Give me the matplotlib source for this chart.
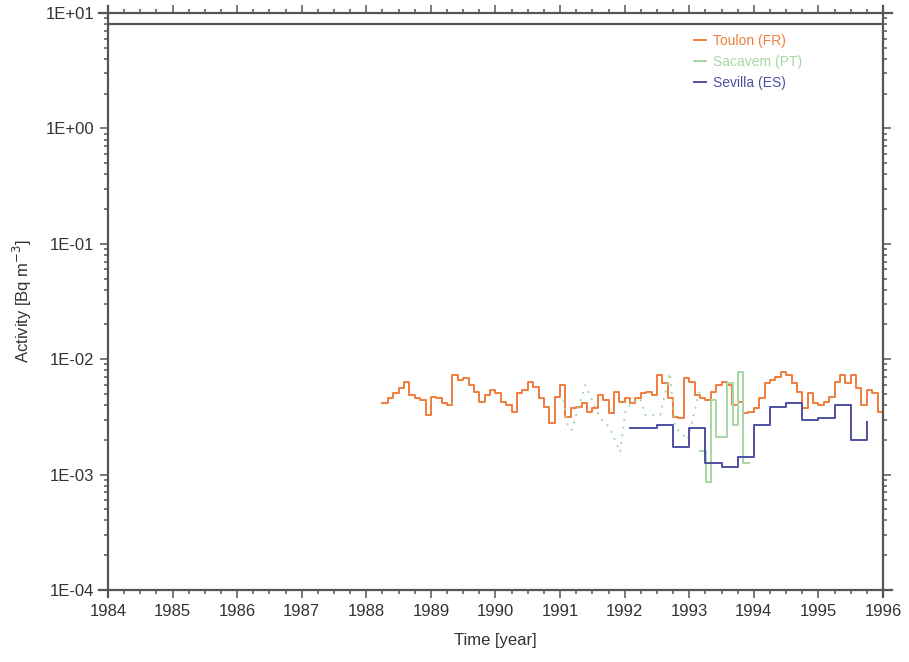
import matplotlib
matplotlib.use("Agg")
import matplotlib.pyplot as plt
import numpy as np
from matplotlib.lines import Line2D
from matplotlib.ticker import FixedLocator, FuncFormatter, LogLocator

plt.rcParams['font.family'] = ['Liberation Sans', 'DejaVu Sans']

# Toulon (FR): monthly steps from 1988.25
toulon_start = 1988.25
toulon = [4.17e-3, 4.61e-3, 5.09e-3, 5.63e-3, 6.35e-3, 4.90e-3, 4.61e-3, 4.43e-3,
          3.28e-3, 4.70e-3, 4.61e-3, 4.17e-3, 4.01e-3, 7.30e-3, 6.60e-3, 6.87e-3,
          5.97e-3, 5.20e-3, 4.26e-3, 4.90e-3, 5.41e-3, 5.09e-3, 4.26e-3, 4.01e-3,
          3.49e-3, 5.09e-3, 5.41e-3, 6.35e-3, 5.74e-3, 4.61e-3, 3.85e-3, 2.80e-3,
          4.70e-3, 5.97e-3, 3.16e-3, 3.78e-3, 3.85e-3, 4.17e-3, 3.49e-3, 3.78e-3,
          4.90e-3, 4.43e-3, 3.42e-3, 5.20e-3, 4.26e-3, 4.61e-3,
          4.17e-3, 4.61e-3, 5.09e-3, 5.20e-3, 4.90e-3, 7.30e-3, 6.22e-3, 4.61e-3,
          3.16e-3, 3.09e-3, 6.87e-3, 6.35e-3, 4.90e-3, 4.61e-3, 4.43e-3, 5.20e-3,
          5.97e-3, 6.35e-3, 5.97e-3, 4.01e-3, 4.26e-3, 3.42e-3, 3.49e-3, 3.78e-3,
          4.61e-3, 6.22e-3, 6.60e-3, 7.01e-3, 7.74e-3, 7.30e-3, 6.22e-3, 5.20e-3,
          3.78e-3, 5.09e-3, 4.17e-3, 4.01e-3, 4.26e-3, 4.70e-3, 6.35e-3, 7.30e-3,
          6.22e-3, 7.30e-3, 5.63e-3, 4.01e-3, 5.41e-3, 5.09e-3, 3.49e-3]

# Sacavem (PT): sparse samples (dotted) then monthly steps
sacavem_dot_t = [1991.05, 1991.12, 1991.18, 1991.39, 1991.62, 1991.77, 1991.93, 1992.01,
                 1992.08, 1992.24, 1992.32, 1992.55, 1992.70, 1992.78, 1992.98, 1993.17]
sacavem_dot_v = [4.4e-3, 2.6e-3, 2.43e-3, 5.97e-3, 3.09e-3, 2.54e-3, 1.57e-3, 3.49e-3,
                 4.01e-3, 4.61e-3, 3.28e-3, 3.28e-3, 7.59e-3, 2.58e-3, 2.0e-3, 5.74e-3]
sacavem_start = 1993.17
sacavem = [1.6e-3, 8.6e-4, 4.43e-3, 2.12e-3, 2.12e-3, 6.22e-3, 2.69e-3, 7.74e-3, 1.26e-3]

# Sevilla (ES): quarterly steps
sevilla_t = [1992.08, 1992.25, 1992.5, 1992.75, 1993.0, 1993.25, 1993.5, 1993.75, 1994.0,
             1994.25, 1994.5, 1994.75, 1995.0, 1995.25, 1995.5, 1995.75]
sevilla = [2.54e-3, 2.54e-3, 2.69e-3, 1.73e-3, 2.54e-3, 1.26e-3, 1.16e-3, 1.42e-3, 2.69e-3,
           3.85e-3, 4.17e-3, 2.97e-3, 3.09e-3, 4.01e-3, 2.0e-3, 2.86e-3]

upper_line = 8.0

c_or = '#EF7D3C'
c_gr = '#A6D7A6'
c_bl = '#4F4FA3'
c_ax = '#555555'

fig = plt.figure(figsize=(9.09, 6.62), dpi=100)
ax = fig.add_axes([0.1188, 0.1088, 0.8526, 0.8716])

t_or = toulon_start + np.arange(len(toulon) + 1) / 12
ax.step(t_or, toulon + [toulon[-1]], where='post', color=c_or, lw=1.4)

ax.plot(sacavem_dot_t, sacavem_dot_v, ls=(0, (1, 3)), color=c_gr, lw=1.4)
t_gr = sacavem_start + np.arange(len(sacavem) + 1) / 12
ax.step(t_gr, sacavem + [sacavem[-1]], where='post', color=c_gr, lw=1.4)

ax.step(sevilla_t, sevilla, where='post', color=c_bl, lw=1.4)

ax.axhline(upper_line, color=c_ax, lw=1.6)

ax.set_yscale('log')
ax.set_xlim(1984, 1996)
ax.set_ylim(1e-4, 10)

ax.xaxis.set_major_locator(FixedLocator(np.arange(1984, 1997)))
ax.xaxis.set_minor_locator(FixedLocator(np.arange(1984, 1996.01, 0.25)))
ax.yaxis.set_major_locator(LogLocator(base=10, numticks=10))
ax.yaxis.set_minor_locator(LogLocator(base=10, subs=np.arange(2, 10), numticks=20))
ax.yaxis.set_major_formatter(FuncFormatter(lambda v, p: f"1E{int(round(np.log10(v))):+03d}"))

ax.tick_params(which='both', direction='out', top=True, right=True,
               color=c_ax, labelcolor='#333333', labelsize=12, width=1.1)
ax.tick_params(which='major', length=6, pad=4)
ax.tick_params(which='minor', length=3)
ax.tick_params(axis='x', labeltop=False)
ax.tick_params(axis='y', labelright=False)

for s in ax.spines.values():
    s.set_visible(False)
# axis lines crossing a little past the corners
ex, ey = 0.012, 0.012
for xs, ys in [([-ex, 1 + ex], [0, 0]), ([-ex, 1 + ex], [1, 1]),
               ([0, 0], [-ey, 1 + ey]), ([1, 1], [-ey, 1 + ey])]:
    ax.add_line(Line2D(xs, ys, transform=ax.transAxes, color=c_ax, lw=1.6, clip_on=False))

ax.set_xlabel('Time [year]', fontsize=12, color='#333333', labelpad=10)
ax.set_ylabel('Activity [Bq m$^{-3}$]', fontsize=12, color='#333333', labelpad=8)

handles = [Line2D([], [], color=c_or, lw=1.4),
           Line2D([], [], color=c_gr, lw=1.4),
           Line2D([], [], color=c_bl, lw=1.4)]
leg = ax.legend(handles, ['Toulon (FR)', 'Sacavem (PT)', 'Sevilla (ES)'],
                loc='upper left', bbox_to_anchor=(0.74, 0.985), frameon=False,
                fontsize=10, handlelength=0.9, handletextpad=0.5, labelspacing=0.5)
for txt, c in zip(leg.get_texts(), [c_or, c_gr, c_bl]):
    txt.set_color(c)

fig.savefig('out.png', dpi=100)
